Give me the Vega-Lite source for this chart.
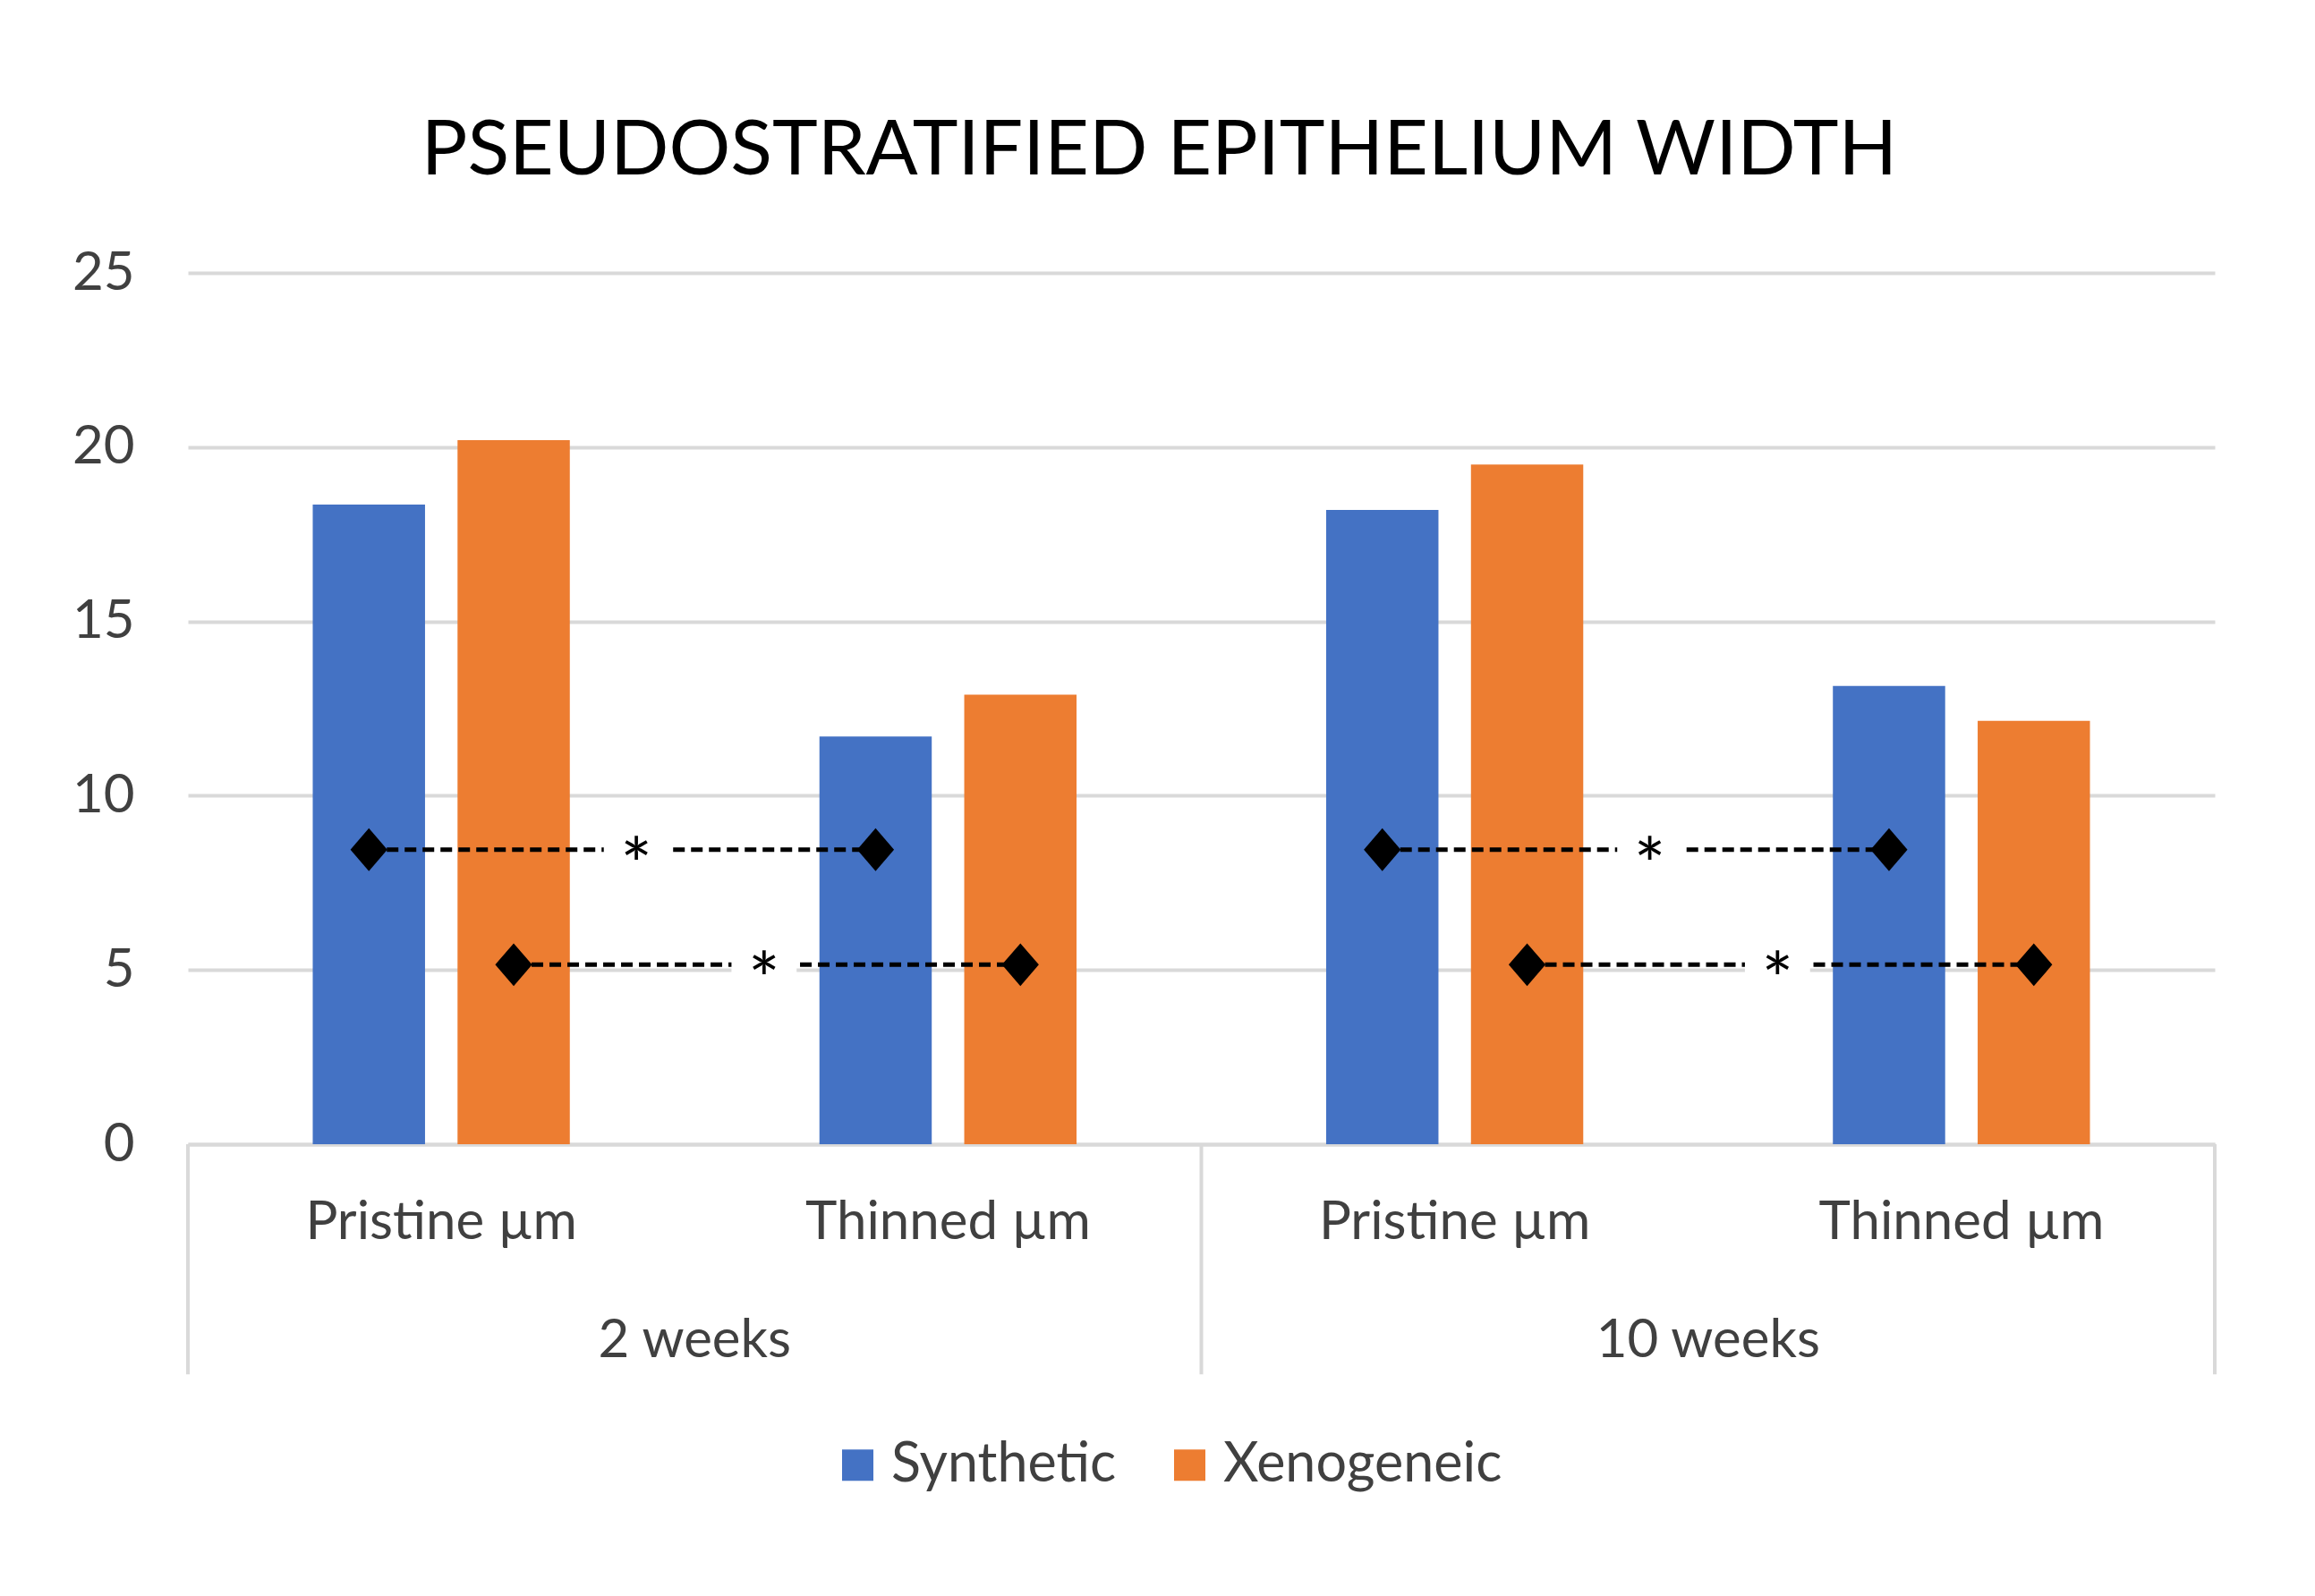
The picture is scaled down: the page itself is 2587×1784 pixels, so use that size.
{
  "$schema": "https://vega.github.io/schema/vega-lite/v6.json",
  "width": 2265,
  "height": 974,
  "autosize": {"type": "none"},
  "padding": {"left": 210, "top": 305, "right": 112, "bottom": 505},
  "background": "white",
  "title": {
    "text": "PSEUDOSTRATIFIED EPITHELIUM WIDTH",
    "font": "Lato",
    "fontSize": 86,
    "fontWeight": "normal",
    "color": "#000000",
    "anchor": "middle",
    "frame": "group",
    "baseline": "alphabetic",
    "offset": -6,
    "dx": -47
  },
  "config": {
    "view": {"stroke": null},
    "font": "Lato"
  },
  "datasets": {
    "bars": [
      {"group": "2 weeks|Pristine µm", "series": "Synthetic", "value": 18.35},
      {"group": "2 weeks|Pristine µm", "series": "Xenogeneic", "value": 20.2},
      {"group": "2 weeks|Thinned µm", "series": "Synthetic", "value": 11.7},
      {"group": "2 weeks|Thinned µm", "series": "Xenogeneic", "value": 12.9},
      {"group": "10 weeks|Pristine µm", "series": "Synthetic", "value": 18.2},
      {"group": "10 weeks|Pristine µm", "series": "Xenogeneic", "value": 19.5},
      {"group": "10 weeks|Thinned µm", "series": "Synthetic", "value": 13.15},
      {"group": "10 weeks|Thinned µm", "series": "Xenogeneic", "value": 12.15}
    ],
    "points": [
      {"pair": "2w-S", "group": "2 weeks|Pristine µm", "series": "Synthetic", "level": 8.45},
      {"pair": "2w-S", "group": "2 weeks|Thinned µm", "series": "Synthetic", "level": 8.45},
      {"pair": "2w-X", "group": "2 weeks|Pristine µm", "series": "Xenogeneic", "level": 5.15},
      {"pair": "2w-X", "group": "2 weeks|Thinned µm", "series": "Xenogeneic", "level": 5.15},
      {"pair": "10w-S", "group": "10 weeks|Pristine µm", "series": "Synthetic", "level": 8.45},
      {"pair": "10w-S", "group": "10 weeks|Thinned µm", "series": "Synthetic", "level": 8.45},
      {"pair": "10w-X", "group": "10 weeks|Pristine µm", "series": "Xenogeneic", "level": 5.15},
      {"pair": "10w-X", "group": "10 weeks|Thinned µm", "series": "Xenogeneic", "level": 5.15}
    ],
    "stars": [
      {"comp": "Synthetic", "from": "2 weeks|Pristine µm", "level": 8.45, "mark": "*"},
      {"comp": "Synthetic", "from": "10 weeks|Pristine µm", "level": 8.45, "mark": "*"},
      {"comp": "Xenogeneic", "from": "2 weeks|Pristine µm", "level": 5.15, "mark": "*"},
      {"comp": "Xenogeneic", "from": "10 weeks|Pristine µm", "level": 5.15, "mark": "*"}
    ],
    "weeks": [
      {"week": "2 weeks", "first": "2 weeks|Pristine µm", "second": "2 weeks|Thinned µm"},
      {"week": "10 weeks", "first": "10 weeks|Pristine µm", "second": "10 weeks|Thinned µm"}
    ]
  },
  "layer": [
    {
      "data": {"name": "bars"},
      "mark": {"type": "bar"},
      "encoding": {
        "x": {
          "field": "group",
          "type": "nominal",
          "title": null,
          "scale": {
            "domain": ["2 weeks|Pristine µm", "2 weeks|Thinned µm", "10 weeks|Pristine µm", "10 weeks|Thinned µm"],
            "paddingInner": 0,
            "paddingOuter": 0
          },
          "axis": {
            "labelExpr": "split(datum.label, '|')[1]",
            "labelAngle": 0,
            "labelLimit": 0,
            "ticks": false,
            "domainColor": "#D9D9D9",
            "domainWidth": 4,
            "labelFont": "Lato",
            "labelFontSize": 60,
            "labelColor": "#404040",
            "labelPadding": 58,
            "grid": false
          }
        },
        "xOffset": {
          "field": "series",
          "type": "nominal",
          "scale": {"domain": ["Synthetic", "Xenogeneic"], "paddingInner": 0.2245, "paddingOuter": 0.862}
        },
        "y": {
          "field": "value",
          "type": "quantitative",
          "title": null,
          "scale": {"domain": [0, 25], "nice": false},
          "axis": {
            "values": [0, 5, 10, 15, 20, 25],
            "ticks": false,
            "domain": false,
            "gridColor": "#D9D9D9",
            "gridWidth": 4,
            "labelFont": "Lato",
            "labelFontSize": 60,
            "labelColor": "#404040",
            "labelPadding": 60
          }
        },
        "color": {
          "field": "series",
          "type": "nominal",
          "scale": {"domain": ["Synthetic", "Xenogeneic"], "range": ["#4472C4", "#ED7D31"]},
          "legend": {
            "title": null,
            "orient": "none",
            "legendX": 718,
            "legendY": 1302,
            "direction": "horizontal",
            "symbolType": "square",
            "symbolSize": 1225,
            "symbolStrokeWidth": 0,
            "labelFont": "Lato",
            "labelFontSize": 61,
            "labelColor": "#404040",
            "labelLimit": 0,
            "labelOffset": 7,
            "columnPadding": 51,
            "padding": 0
          }
        }
      }
    },
    {
      "data": {"name": "weeks"},
      "mark": {"type": "rule", "color": "#D9D9D9", "strokeWidth": 4},
      "encoding": {
        "x": {"field": "first", "type": "nominal", "title": null, "bandPosition": 0},
        "y": {"datum": 0},
        "y2": {"datum": -6.6}
      }
    },
    {
      "data": {"name": "weeks"},
      "transform": [{"filter": "datum.week === '10 weeks'"}],
      "mark": {"type": "rule", "color": "#D9D9D9", "strokeWidth": 4},
      "encoding": {
        "x": {"field": "second", "type": "nominal", "title": null, "bandPosition": 1},
        "y": {"datum": 0},
        "y2": {"datum": -6.6}
      }
    },
    {
      "data": {"name": "weeks"},
      "mark": {"type": "text", "font": "Lato", "fontSize": 60, "color": "#404040", "align": "center", "baseline": "middle"},
      "encoding": {
        "x": {"field": "second", "type": "nominal", "title": null, "bandPosition": 0},
        "y": {"datum": -5.65},
        "text": {"field": "week"}
      }
    },
    {
      "data": {"name": "points"},
      "mark": {"type": "line", "color": "#000000", "strokeWidth": 5, "strokeDash": [13, 7]},
      "encoding": {
        "x": {"field": "group", "type": "nominal", "title": null},
        "xOffset": {"field": "series", "type": "nominal"},
        "y": {"field": "level", "type": "quantitative", "title": null},
        "detail": {"field": "pair"}
      }
    },
    {
      "data": {"name": "points"},
      "mark": {"type": "point", "shape": "M0,-1L0.86,0L0,1L-0.86,0Z", "filled": true, "color": "#000000", "opacity": 1, "size": 2300},
      "encoding": {
        "x": {"field": "group", "type": "nominal", "title": null},
        "xOffset": {"field": "series", "type": "nominal"},
        "y": {"field": "level", "type": "quantitative", "title": null}
      }
    },
    {
      "data": {"name": "stars"},
      "transform": [{"filter": "datum.comp === 'Synthetic'"}],
      "layer": [
        {
          "mark": {"type": "point", "shape": "M-1,-0.5H1V0.5H-1Z", "filled": true, "color": "#FFFFFF", "opacity": 1, "size": 5300},
          "encoding": {
            "x": {"field": "from", "type": "nominal", "title": null, "bandPosition": 0.885},
            "y": {"field": "level", "type": "quantitative", "title": null}
          }
        },
        {
          "mark": {"type": "text", "font": "Lato", "fontSize": 84, "color": "#000000", "align": "center", "baseline": "alphabetic", "dy": 47},
          "encoding": {
            "x": {"field": "from", "type": "nominal", "title": null, "bandPosition": 0.885},
            "y": {"field": "level", "type": "quantitative", "title": null},
            "text": {"field": "mark"}
          }
        }
      ]
    },
    {
      "data": {"name": "stars"},
      "transform": [{"filter": "datum.comp === 'Xenogeneic'"}],
      "layer": [
        {
          "mark": {"type": "point", "shape": "M-1,-0.5H1V0.5H-1Z", "filled": true, "color": "#FFFFFF", "opacity": 1, "size": 5300},
          "encoding": {
            "x": {"field": "from", "type": "nominal", "title": null, "bandPosition": 1.137},
            "y": {"field": "level", "type": "quantitative", "title": null}
          }
        },
        {
          "mark": {"type": "text", "font": "Lato", "fontSize": 84, "color": "#000000", "align": "center", "baseline": "alphabetic", "dy": 47},
          "encoding": {
            "x": {"field": "from", "type": "nominal", "title": null, "bandPosition": 1.137},
            "y": {"field": "level", "type": "quantitative", "title": null},
            "text": {"field": "mark"}
          }
        }
      ]
    }
  ]
}
